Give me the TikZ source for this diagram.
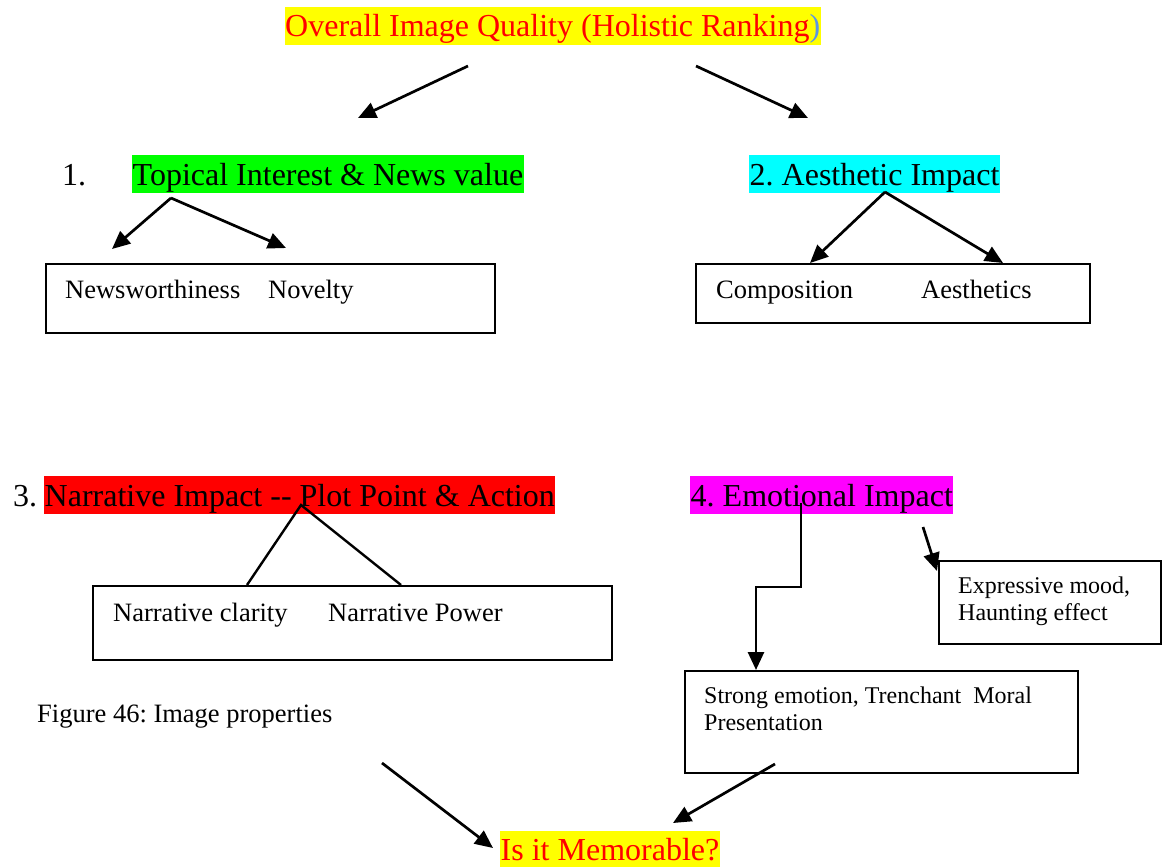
\documentclass[tikz,border=0pt]{standalone}
\usepackage{fontspec}
\setmainfont{Liberation Serif}
\usetikzlibrary{arrows.meta}

\newcommand{\headsize}{\fontsize{32}{38}\selectfont}
\newcommand{\boxsize}{\fontsize{26.5}{30}\selectfont}
\newcommand{\notesize}{\fontsize{24}{27}\selectfont}

\definecolor{hlyellow}{RGB}{255,255,0}
\definecolor{hlgreen}{RGB}{0,255,0}
\definecolor{hlcyan}{RGB}{0,255,255}
\definecolor{hlred}{RGB}{255,0,0}
\definecolor{hlmagenta}{RGB}{255,0,255}
\definecolor{titlered}{RGB}{255,0,0}
\definecolor{parenblue}{RGB}{90,150,230}

\tikzset{
  heading/.style={anchor=base west, inner xsep=0.5pt, inner ysep=0pt,
    text height=30pt, text depth=8pt, font=\headsize},
  plain/.style={anchor=base west, inner sep=0pt},
  boxtext/.style={plain, font=\boxsize},
  notetext/.style={plain, font=\notesize, align=left},
  panel/.style={draw, line width=1.9pt, inner sep=0pt, anchor=north west},
  arr/.style={line width=2.7pt, -{Triangle[length=18pt,width=16pt]}},
  link/.style={line width=2.4pt},
}

\begin{document}
\frenchspacing
\begin{tikzpicture}[x=1pt, y=-1pt]
\useasboundingbox (0,0) rectangle (1168,867);

% top-level quality criterion
\node[heading, fill=hlyellow, text=titlered] (title) at (284.5,37)
  {Overall Image Quality (Holistic Ranking\textcolor{parenblue}{)}};

% 1. topical interest
\node[plain, font=\headsize] (n1) at (62,185) {1.};
\node[heading, fill=hlgreen] (topic) at (132,185) {Topical Interest \& News value};
\node[panel, minimum width=449pt, minimum height=69pt] (box1) at (45,263) {};
\node[boxtext] (news) at (65,298) {Newsworthiness};
\node[boxtext] (novel) at (268,298) {Novelty};

% 2. aesthetic impact
\node[heading, fill=hlcyan] (aes) at (749,185) {2. Aesthetic Impact};
\node[panel, minimum width=394pt, minimum height=59pt] (box2) at (695,263) {};
\node[boxtext] (comp) at (716,298) {Composition};
\node[boxtext] (aesth) at (921,298) {Aesthetics};

% 3. narrative impact
\node[plain, font=\headsize] (n3) at (13,506) {3.};
\node[heading, fill=hlred] (narr) at (44,506) {Narrative Impact -{}- Plot Point \& Action};
\node[panel, minimum width=519pt, minimum height=74pt] (box3) at (92,585) {};
\node[boxtext] (clar) at (113,621) {Narrative clarity};
\node[boxtext] (power) at (328,621) {Narrative Power};

% 4. emotional impact
\node[heading, fill=hlmagenta] (emo) at (690,506) {4. Emotional Impact};
\node[panel, minimum width=222pt, minimum height=83pt] (box4) at (938,560) {};
\node[notetext] (mood) at (958,593) {Expressive mood,};
\node[notetext] (haunt) at (958,620) {Haunting effect};
\node[panel, minimum width=393pt, minimum height=102pt] (box5) at (684,670) {};
\node[notetext] (strong) at (704,703) {Strong emotion, Trenchant\ \ Moral};
\node[notetext] (pres) at (704,730) {Presentation};

% caption and final question
\node[boxtext] (caption) at (37,722) {Figure 46: Image properties};
\node[heading, fill=hlyellow, text=titlered, text height=29pt, text depth=7pt]
  (memo) at (500,860) {Is it Memorable?};

% connector end points
\coordinate (tL) at (468,66);   \coordinate (tLe) at (358,118);
\coordinate (tR) at (696,66);   \coordinate (tRe) at (808,118);
\coordinate (a1) at (171,198);  \coordinate (a1l) at (112,249);
\coordinate (a1r) at (286,248);
\coordinate (a2) at (885,192);  \coordinate (a2l) at (810,263);
\coordinate (a2r) at (1003,263);
\coordinate (a3) at (301,505);  \coordinate (a3l) at (247,585);
\coordinate (a3r) at (401,585);
\coordinate (e0) at (801,503);  \coordinate (e1) at (801,587);
\coordinate (e2) at (756,587);  \coordinate (e3) at (756,670);
\coordinate (m0) at (923,527);  \coordinate (m1) at (937,571);
\coordinate (q1) at (382,763);  \coordinate (q1e) at (493,848);
\coordinate (q2) at (775,764);  \coordinate (q2e) at (673,823);

% connectors
\draw[arr] (tL) -- (tLe);
\draw[arr] (tR) -- (tRe);
\draw[arr] (a1) -- (a1l);
\draw[arr] (a1) -- (a1r);
\draw[arr] (a2) -- (a2l);
\draw[arr] (a2) -- (a2r);
\draw[link] (a3l) -- (a3) -- (a3r);
\draw[arr] (e0) -- (e1) -- (e2) -- (e3);
\draw[arr] (m0) -- (m1);
\draw[arr] (q1) -- (q1e);
\draw[arr] (q2) -- (q2e);
\end{tikzpicture}
\end{document}
